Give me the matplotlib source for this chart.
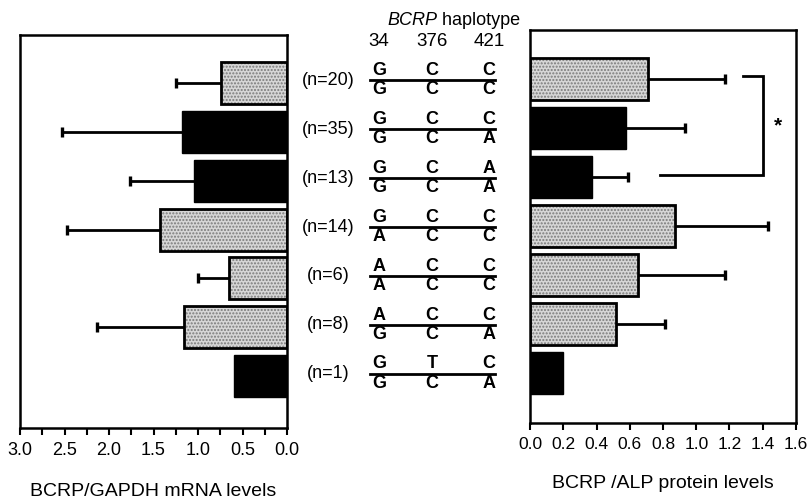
import numpy as np
import matplotlib
matplotlib.use("Agg")
import matplotlib.pyplot as plt
from matplotlib.ticker import MultipleLocator, FormatStrFormatter

plt.rcParams['font.family'] = ['Liberation Sans', 'DejaVu Sans']

# ---------------- data ----------------
n_labels = ['(n=20)', '(n=35)', '(n=13)', '(n=14)', '(n=6)', '(n=8)', '(n=1)']
positions = ['34', '376', '421']
hap_top = [['G', 'C', 'C'], ['G', 'C', 'C'], ['G', 'C', 'A'], ['G', 'C', 'C'],
           ['A', 'C', 'C'], ['A', 'C', 'C'], ['G', 'T', 'C']]
hap_bottom = [['G', 'C', 'C'], ['G', 'C', 'A'], ['G', 'C', 'A'], ['A', 'C', 'C'],
              ['A', 'C', 'C'], ['G', 'C', 'A'], ['G', 'C', 'A']]
bar_style = ['light', 'dark', 'dark', 'light', 'light', 'light', 'dark']

mrna_mean = [0.74, 1.18, 1.04, 1.43, 0.65, 1.16, 0.60]
mrna_err = [0.51, 1.35, 0.72, 1.04, 0.35, 0.97, None]
protein_mean = [0.71, 0.58, 0.37, 0.87, 0.65, 0.52, 0.20]
protein_err = [0.46, 0.35, 0.22, 0.56, 0.52, 0.29, None]

mrna_ticks = [3.0, 2.5, 2.0, 1.5, 1.0, 0.5, 0.0]
protein_ticks = [0.0, 0.2, 0.4, 0.6, 0.8, 1.0, 1.2, 1.4, 1.6]

# ---------------- figure ----------------
W, H = 812, 503
fig = plt.figure(figsize=(W / 100, H / 100), dpi=100)


def px_axes(x0, x1, ytop, ybot):
    return fig.add_axes([x0 / W, 1 - ybot / H, (x1 - x0) / W, (ybot - ytop) / H])


axL = px_axes(20, 287, 35, 428)
axR = px_axes(530, 796, 30, 423)
axM = px_axes(290, 528, 35, 428)

y = np.arange(len(n_labels))
light_face = '#d6d6d6'
hatch_col = '#7a7a7a'


def draw_bars(ax, means, errs):
    for yi, m, st in zip(y, means, bar_style):
        if st == 'light':
            ax.barh(yi, m, height=0.86, color=light_face, edgecolor=hatch_col,
                    hatch='.....', linewidth=0, zorder=2)
            ax.barh(yi, m, height=0.86, facecolor='none', edgecolor='black',
                    linewidth=2.0, zorder=3)
        else:
            ax.barh(yi, m, height=0.86, color='black', edgecolor='black',
                    linewidth=1.0, zorder=3)
    for yi, m, e in zip(y, means, errs):
        if e is None:
            continue
        ax.plot([m, m + e], [yi, yi], color='black', lw=2, zorder=1,
                solid_capstyle='butt')
        ax.plot([m + e], [yi], marker='|', markersize=7, markeredgewidth=2.4,
                color='black', zorder=4)


for ax in (axL, axR):
    for s in ax.spines.values():
        s.set_linewidth(1.8)
    ax.set_yticks([])
    ax.tick_params(axis='x', direction='out', length=5, width=1.5,
                   labelsize=13, pad=5)
    ax.tick_params(axis='x', which='minor', direction='out', length=5, width=1.5)

# left panel
draw_bars(axL, mrna_mean, mrna_err)
axL.set_xlim(3.0, 0.0)
axL.set_ylim(7.06, -0.98)
axL.set_xticks(mrna_ticks)
axL.xaxis.set_major_formatter(FormatStrFormatter('%.1f'))
axL.xaxis.set_minor_locator(MultipleLocator(0.25))
axL.set_xlabel('BCRP/GAPDH mRNA levels', fontsize=14, labelpad=17)

# right panel
draw_bars(axR, protein_mean, protein_err)
axR.set_xlim(0.0, 1.6)
axR.set_ylim(7.02, -1.0)
axR.set_xticks(protein_ticks)
axR.xaxis.set_major_formatter(FormatStrFormatter('%.1f'))
axR.tick_params(axis='x', labelsize=12.5)
axR.set_xlabel('BCRP /ALP protein levels', fontsize=14, labelpad=17)

# significance bracket (rows 0 and 2)
axR.plot([1.28, 1.40, 1.40, 0.78], [-0.06, -0.06, 1.96, 1.96], color='black',
         lw=2, solid_joinstyle='miter', zorder=5)
axR.text(1.49, 0.95, '*', fontsize=15, fontweight='bold', ha='center',
         va='center')

# middle haplotype panel
axM.set_xlim(290, 528)
axM.set_ylim(7.06, -0.98)
axM.axis('off')
col_x = [379, 432, 489]
axM.text(437, -1.28, 'BCRP', fontsize=13, style='italic', ha='right',
         va='center', clip_on=False)
axM.text(437, -1.28, ' haplotype', fontsize=13, ha='left', va='center',
         clip_on=False)
for cx, p in zip(col_x, positions):
    axM.text(cx, -0.84, p, fontsize=13.5, ha='center', va='center')
for i in range(len(n_labels)):
    yl = y[i] - 0.05
    axM.text(328, yl, n_labels[i], fontsize=13, ha='center', va='center')
    axM.plot([370, 495], [yl, yl], color='black', lw=2)
    for cx, t, b in zip(col_x, hap_top[i], hap_bottom[i]):
        axM.text(cx, yl - 0.2, t, fontsize=13, fontweight='bold',
                 ha='center', va='center')
        axM.text(cx, yl + 0.19, b, fontsize=13, fontweight='bold',
                 ha='center', va='center')

fig.savefig('out.png', dpi=100)
